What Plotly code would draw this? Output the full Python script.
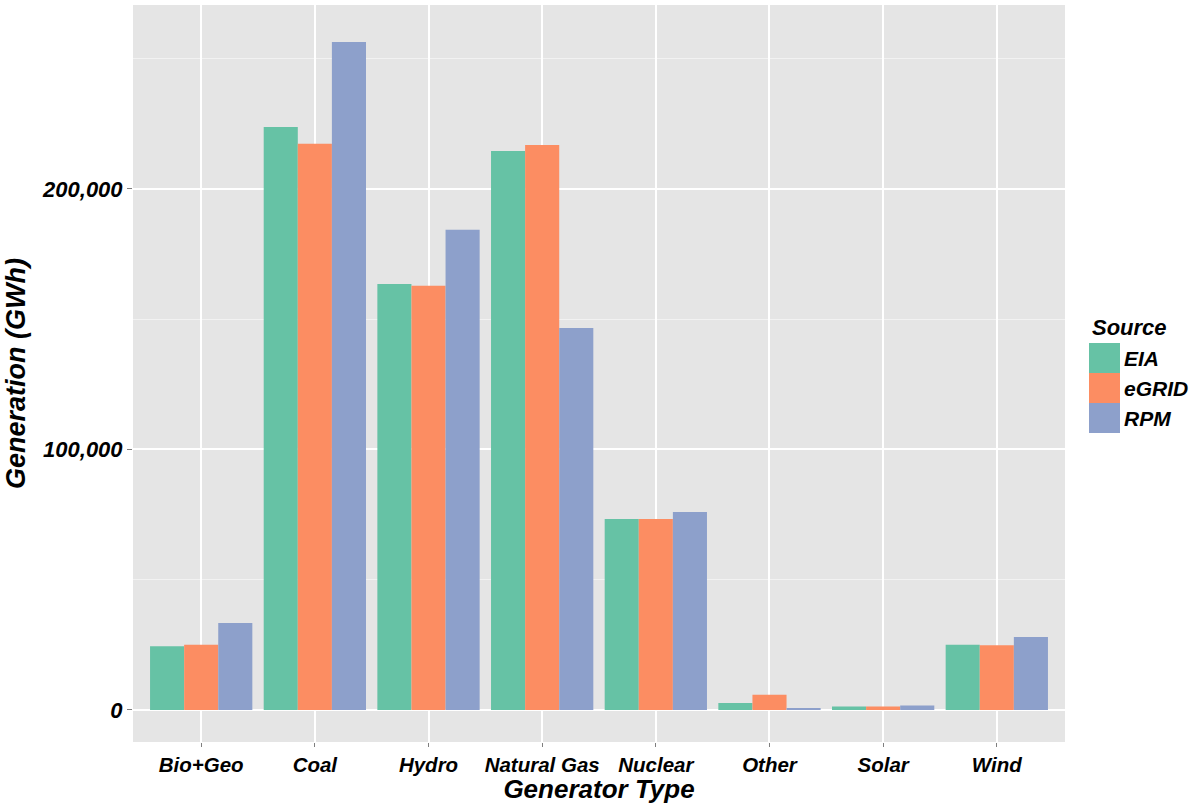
import plotly.graph_objects as go

categories = ["Bio+Geo", "Coal", "Hydro", "Natural Gas", "Nuclear", "Other", "Solar", "Wind"]
sources = ["EIA", "eGRID", "RPM"]
eia = [24500, 223800, 163500, 214600, 73300, 2700, 1300, 25000]
egrid = [25000, 217300, 162800, 216900, 73300, 5800, 1300, 24800]
rpm = [33400, 256400, 184300, 146600, 76000, 400, 1700, 28000]
colors = ["#66C2A5", "#FC8D62", "#8DA0CB"]
y_ticks = [0, 100000, 200000]
y_tick_text = ["0", "100,000", "200,000"]

FONT = "Liberation Sans, Arial, Helvetica, sans-serif"
BI = dict(weight="bold", style="italic", color="black", family=FONT)

# panel geometry in pixels (for placing the legend)
PL, PR, PT, PB = 133, 1065, 5, 742
W, H = 1200, 804
def px_x(x):
    return (x - PL) / (PR - PL)
def px_y(y):
    return (PB - y) / (PB - PT)

fig = go.Figure()
for name, vals, col in zip(sources, [eia, egrid, rpm], colors):
    fig.add_trace(go.Bar(x=categories, y=vals, name=name, showlegend=False,
                         marker=dict(color=col, line=dict(width=0))))

# custom ggplot-like legend
shapes = []
annotations = [dict(text="Source", x=px_x(1090), y=px_y(327), xref="paper", yref="paper",
                    xanchor="left", yanchor="middle", showarrow=False,
                    font=dict(size=22, **BI))]
key_top = 343
key_h = 30
for i, (name, col) in enumerate(zip(sources, colors)):
    y0 = key_top + i * key_h
    shapes.append(dict(type="rect", xref="paper", yref="paper",
                       x0=px_x(1089), x1=px_x(1120), y0=px_y(y0 + key_h), y1=px_y(y0),
                       fillcolor=col, line=dict(width=0), layer="above"))
    annotations.append(dict(text=name, x=px_x(1122), y=px_y(y0 + key_h / 2),
                            xref="paper", yref="paper", xanchor="left", yanchor="middle",
                            showarrow=False, font=dict(size=21, **BI)))

fig.update_layout(
    width=W, height=H,
    barmode="group", bargap=0.1, bargroupgap=0,
    paper_bgcolor="white", plot_bgcolor="#E5E5E5",
    margin=dict(l=PL, r=W - PR, t=PT, b=H - PB, autoexpand=False),
    font=dict(family=FONT, color="black"),
    showlegend=False,
    shapes=shapes,
    annotations=annotations,
    xaxis=dict(
        title=dict(text="Generator Type", font=dict(size=26, **BI), standoff=5),
        tickfont=dict(size=20.5, **BI),
        showgrid=True, gridcolor="white", gridwidth=1.5,
        ticks="outside", ticklen=4, tickcolor="#7F7F7F",
        range=[-0.6, 7.6], zeroline=False, showline=False,
    ),
    yaxis=dict(
        title=dict(text="Generation (GWh)", font=dict(size=27, **BI), standoff=8),
        tickfont=dict(size=22, **BI),
        tickvals=y_ticks, ticktext=y_tick_text,
        range=[-12300, 270600],
        showgrid=True, gridcolor="white", gridwidth=1.5,
        minor=dict(showgrid=True, gridcolor="#F2F2F2", gridwidth=1, dtick=50000, tick0=0, ticks=""),
        ticks="outside", ticklen=5, tickcolor="#7F7F7F",
        zeroline=False, showline=False,
    ),
)

fig.write_html("out.html", config={"displayModeBar": False},
               post_script="document.body.style.margin='0';")
